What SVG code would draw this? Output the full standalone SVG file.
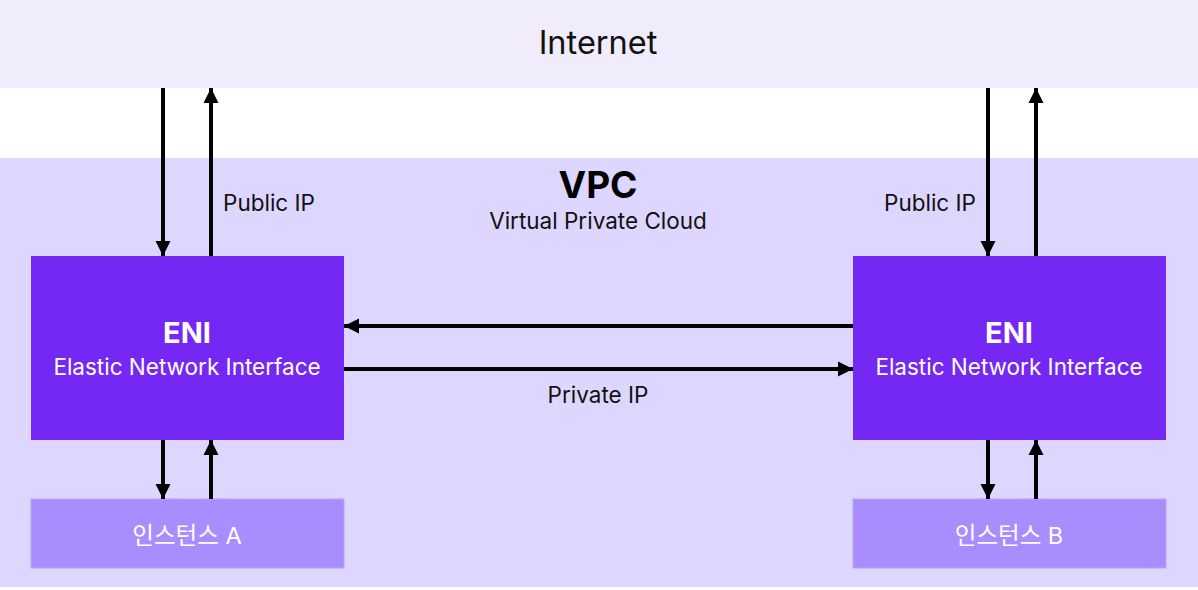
<svg xmlns="http://www.w3.org/2000/svg" width="1198" height="590" viewBox="0 0 1198 590">
<style>
text{font-family:Inter,"Noto Sans CJK KR","Noto Sans",sans-serif;text-anchor:middle}
.lbl{font-size:22.5px;fill:#111}
.eni{fill:#7528F4}
.inst{fill:#A98DFE;stroke:#B9A3FE;stroke-width:1}
.w{fill:#fff}
.c{stroke:#000;stroke-width:4;fill:none;marker-end:url(#ah)}
</style>
<defs>
<marker id="ah" viewBox="0 0 10 10" refX="10" refY="5" markerWidth="3.8" markerHeight="3.8" orient="auto" markerUnits="strokeWidth">
<path d="M0,0 L10,5 L0,10 z" fill="#000"/>
</marker>
</defs>
<rect width="1198" height="590" fill="#fff"/>
<g id="internet">
<rect x="0" y="0" width="1198" height="88" fill="#F0ECFB"/>
<text x="598" y="54" style="font-size:32.5px" fill="#111">Internet</text>
</g>
<g id="vpc">
<rect x="0" y="158" width="1198" height="429" fill="#DDD6FE"/>
<text x="598" y="198" style="font-size:37px;font-weight:700" fill="#000">VPC</text>
<text x="598" y="229" class="lbl">Virtual Private Cloud</text>
</g>
<g id="eni-left">
<rect x="31" y="256" width="313" height="184" class="eni"/>
<text x="187" y="343" class="w" style="font-size:29px;font-weight:700">ENI</text>
<text x="187" y="375" class="w" style="font-size:22.5px">Elastic Network Interface</text>
</g>
<g id="eni-right">
<rect x="853" y="256" width="313" height="184" class="eni"/>
<text x="1009" y="343" class="w" style="font-size:29px;font-weight:700">ENI</text>
<text x="1009" y="375" class="w" style="font-size:22.5px">Elastic Network Interface</text>
</g>
<g id="instance-a">
<rect x="31" y="499" width="313" height="69" class="inst"/>
<text x="187" y="544" class="w" style="font-size:23.5px">인스턴스 A</text>
</g>
<g id="instance-b">
<rect x="853" y="499" width="313" height="69" class="inst"/>
<text x="1009" y="544" class="w" style="font-size:23.5px">인스턴스 B</text>
</g>
<g id="connectors">
<line x1="163" y1="88" x2="163" y2="256" class="c"/>
<line x1="211" y1="256" x2="211" y2="88" class="c"/>
<line x1="988" y1="88" x2="988" y2="256" class="c"/>
<line x1="1036" y1="256" x2="1036" y2="88" class="c"/>
<line x1="163" y1="440" x2="163" y2="499" class="c"/>
<line x1="211" y1="499" x2="211" y2="440" class="c"/>
<line x1="988" y1="440" x2="988" y2="499" class="c"/>
<line x1="1036" y1="499" x2="1036" y2="440" class="c"/>
<line x1="853" y1="326" x2="344" y2="326" class="c"/>
<line x1="344" y1="369" x2="853" y2="369" class="c"/>
<text x="269" y="211" class="lbl">Public IP</text>
<text x="930" y="211" class="lbl">Public IP</text>
<text x="598" y="403" class="lbl">Private IP</text>
</g>
</svg>
